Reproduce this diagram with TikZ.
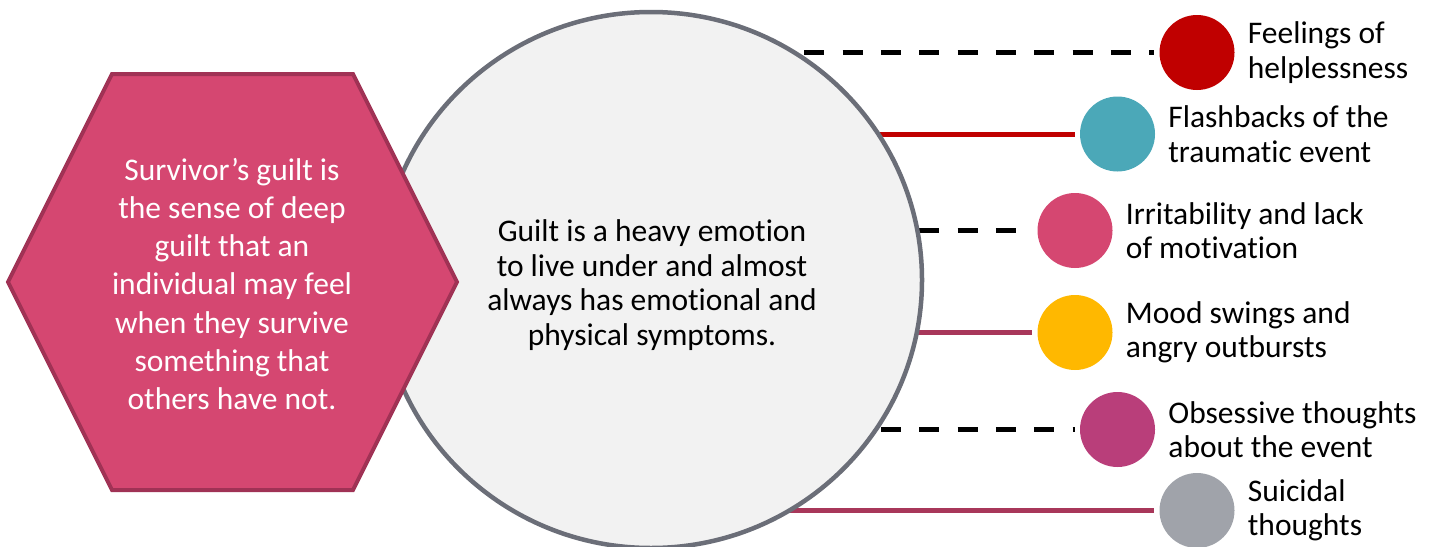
\documentclass[tikz,border=0pt]{standalone}
\usepackage{fontspec}
\setmainfont{Carlito}[Ligatures={NoCommon,NoContextual}]
\usetikzlibrary{shapes.geometric,backgrounds}
\definecolor{cred}{RGB}{192,0,0}
\definecolor{cteal}{RGB}{75,168,184}
\definecolor{cpink}{RGB}{213,71,113}
\definecolor{cyellow}{RGB}{255,184,0}
\definecolor{cmagenta}{RGB}{185,62,122}
\definecolor{cgray}{RGB}{160,163,170}
\definecolor{cmaroon}{RGB}{168,55,90}
\definecolor{bigfill}{RGB}{242,242,242}
\definecolor{bigstroke}{RGB}{107,110,120}
\definecolor{hexstroke}{RGB}{160,50,85}
\begin{document}
\begin{tikzpicture}[x=1pt,y=-1pt,
  dot/.style={circle, minimum size=75pt, inner sep=0pt, draw=none},
  lbl/.style={anchor=west, align=left, inner sep=0pt, xshift=13pt,
    font=\fontsize{31.5}{34.5}\selectfont},
  dashlink/.style={line width=5pt, dash pattern=on 20pt off 18.33pt, shorten >=5pt},
  solidlink/.style={line width=5pt, shorten >=5pt},
  bigshape/.style={ellipse, minimum width=542pt, minimum height=536pt, inner sep=0pt,
    draw=bigstroke, line width=4.5pt, fill=bigfill},
  hexshape/.style={fill=cpink, draw=hexstroke, line width=4pt, line join=miter},
  bodytext/.style={align=center, inner sep=0pt, font=\fontsize{31.5}{34.5}\selectfont}
]
\useasboundingbox (0,0) rectangle (1437,546);

% central circle
\node[bigshape] (big) at (651,280) {};
\node[bodytext] (bigtxt) at (652,285) {Guilt is a heavy emotion\\to live under and almost\\always has emotional and\\physical symptoms.};

% hexagon
\draw[hexshape] (8,282) -- (112,74) -- (353,74) -- (457,282) -- (353,490) -- (112,490) -- cycle;
\node[bodytext, text=white, font=\fontsize{31.5}{38.3}\selectfont] (hex) at (232,284)
  {Survivor’s guilt is\\the sense of deep\\guilt that an\\individual may feel\\when they survive\\something that\\others have not.};

% symptom dots
\node[dot, fill=cred]     (s1) at (1197,52.5) {};
\node[dot, fill=cteal]    (s2) at (1117.5,134) {};
\node[dot, fill=cpink]    (s3) at (1075,230.5) {};
\node[dot, fill=cyellow]  (s4) at (1075,332.5) {};
\node[dot, fill=cmagenta] (s5) at (1117.5,429.5) {};
\node[dot, fill=cgray]    (s6) at (1197,510.5) {};

\node[lbl] (t1) at (s1.east) {Feelings of\\helplessness};
\node[lbl] (t2) at (s2.east) {Flashbacks of the\\traumatic event};
\node[lbl] (t3) at (s3.east) {Irritability and lack\\of motivation};
\node[lbl] (t4) at (s4.east) {Mood swings and\\angry outbursts};
\node[lbl] (t5) at (s5.east) {Obsessive thoughts\\about the event};
\node[lbl] (t6) at (s6.east) {Suicidal\\thoughts};

% connectors behind the circle
\begin{scope}[on background layer]
\draw[dashlink] (s1.west -| big.center) -- (s1.west);
\draw[solidlink, draw=cred] (s2.west -| big.center) -- (s2.west);
\draw[dashlink] (s3.west -| big.center) -- (s3.west);
\draw[solidlink, draw=cmaroon] (s4.west -| big.center) -- (s4.west);
\draw[dashlink] (s5.west -| big.center) -- (s5.west);
\draw[solidlink, draw=cmaroon] (s6.west -| big.center) -- (s6.west);
\end{scope}
\end{tikzpicture}
\end{document}
